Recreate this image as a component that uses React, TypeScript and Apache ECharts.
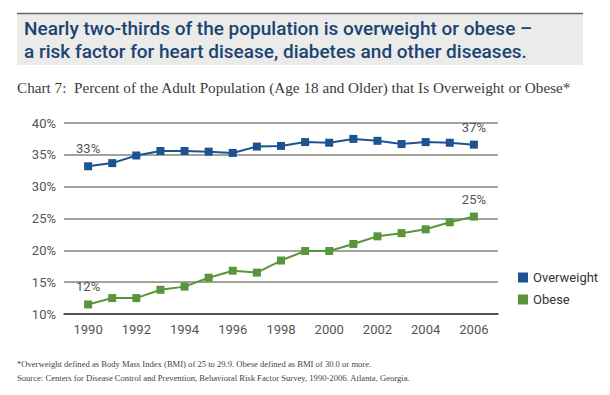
import React, { useEffect, useRef } from "react";
import * as echarts from "echarts";

const years = [1990, 1991, 1992, 1993, 1994, 1995, 1996, 1997, 1998, 1999, 2000, 2001, 2002, 2003, 2004, 2005, 2006];
const overweight = [33.2, 33.7, 34.9, 35.6, 35.6, 35.5, 35.3, 36.3, 36.4, 37.0, 36.9, 37.5, 37.2, 36.7, 37.0, 36.9, 36.6];
const obese = [11.5, 12.5, 12.5, 13.8, 14.3, 15.7, 16.8, 16.5, 18.4, 19.9, 19.9, 21.0, 22.2, 22.7, 23.3, 24.4, 25.3];
const labelledYears = [1990, 2006];
const overweightLabels = ["33%", "37%"];
const obeseLabels = ["12%", "25%"];

const titleLines = [
  "Nearly two-thirds of the population is overweight or obese –",
  "a risk factor for heart disease, diabetes and other diseases.",
];
const subtitle = "Chart 7:  Percent of the Adult Population (Age 18 and Older) that Is Overweight or Obese*";
const footnotes = [
  "*Overweight defined as Body Mass Index (BMI) of 25 to 29.9. Obese defined as BMI of 30.0 or more.",
  "Source: Centers for Disease Control and Prevention, Behavioral Risk Factor Survey, 1990-2006. Atlanta, Georgia.",
];

const BLUE = "#1c5390";
const GREEN = "#5a9639";

function buildData(vals: number[], labels: string[]) {
  return years.map((y, i) => {
    const li = labelledYears.indexOf(y);
    const item: any = { value: [y, vals[i]] };
    if (li >= 0) {
      item.label = { show: true, formatter: labels[li] };
    }
    return item;
  });
}

export default function App() {
  const ref = useRef<HTMLDivElement>(null);
  useEffect(() => {
    if (!ref.current) return;
    const chart = echarts.init(ref.current, undefined, { renderer: "svg" });
    const labelStyle = {
      show: false,
      position: "top",
      distance: 7,
      color: "#555",
      fontSize: 13,
      fontFamily: "Roboto",
    };
    chart.setOption({
      animation: false,
      backgroundColor: "#fff",
      graphic: [
        {
          type: "rect",
          shape: { x: 17, y: 13, width: 566, height: 52 },
          style: { fill: "#ebebea" },
        },
        {
          type: "line",
          shape: { x1: 17, y1: 13.5, x2: 583, y2: 13.5 },
          style: { stroke: "#666", lineWidth: 1.5 },
        },
        {
          type: "text",
          x: 24,
          y: 17,
          style: {
            text: titleLines.join("\n"),
            fill: "#1b4472",
            fontSize: 19,
            fontWeight: 500,
            fontFamily: "Roboto",
            lineHeight: 23,
          },
        },
        {
          type: "text",
          x: 17,
          y: 80,
          style: {
            text: subtitle,
            fill: "#3a3a3a",
            fontSize: 15.2,
            fontFamily: "Liberation Serif",
          },
        },
        {
          type: "text",
          x: 17,
          y: 357,
          style: {
            text: footnotes.join("\n"),
            fill: "#444",
            fontSize: 8.6,
            fontFamily: "Liberation Serif",
            lineHeight: 14,
          },
        },
      ],
      grid: { left: 64, right: 112, top: 123, bottom: 81, containLabel: false },
      legend: {
        orient: "vertical",
        left: 513,
        top: 266,
        itemWidth: 10,
        itemHeight: 10,
        itemGap: 9,
        icon: "rect",
        textStyle: { color: "#333", fontSize: 13, fontFamily: "Roboto" },
        data: ["Overweight", "Obese"],
      },
      xAxis: {
        type: "value",
        min: 1989,
        max: 2007,
        interval: 1,
        axisLine: { show: true, lineStyle: { color: "#3a3a30", width: 1.5 } },
        axisTick: { show: false },
        splitLine: { show: false },
        axisLabel: {
          color: "#555",
          fontSize: 13,
          fontFamily: "Roboto",
          margin: 9,
          showMinLabel: false,
          showMaxLabel: false,
          formatter: (v: number) => (v % 2 === 0 ? String(v) : ""),
        },
      },
      yAxis: {
        type: "value",
        min: 10,
        max: 40,
        interval: 5,
        axisLine: { show: false },
        axisTick: { show: false },
        splitLine: { show: true, lineStyle: { color: "#85857a", width: 1.5 } },
        axisLabel: {
          color: "#555",
          fontSize: 13,
          fontFamily: "Roboto",
          margin: 8,
          formatter: (v: number) => v + "%",
        },
      },
      series: [
        {
          name: "Overweight",
          type: "line",
          data: buildData(overweight, overweightLabels),
          color: BLUE,
          symbol: "rect",
          symbolSize: 8,
          lineStyle: { width: 2, color: BLUE },
          itemStyle: { color: BLUE },
          label: labelStyle,
        },
        {
          name: "Obese",
          type: "line",
          data: buildData(obese, obeseLabels),
          color: GREEN,
          symbol: "rect",
          symbolSize: 8,
          lineStyle: { width: 2, color: GREEN },
          itemStyle: { color: GREEN },
          label: labelStyle,
        },
      ],
    });
    return () => chart.dispose();
  }, []);
  return <div ref={ref} style={{ width: 610, height: 395, position: "absolute", left: 0, top: 0 }} />;
}
